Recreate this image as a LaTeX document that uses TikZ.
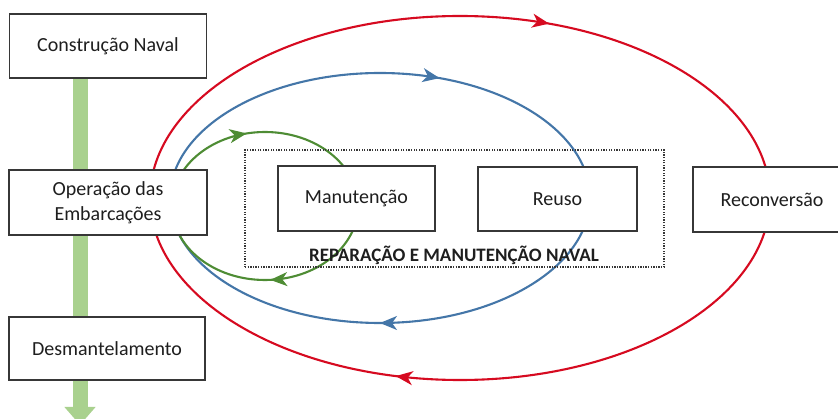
\documentclass[tikz,border=0pt]{standalone}
\usepackage{fontspec}
\setmainfont{Carlito}
\usetikzlibrary{arrows.meta,decorations.markings}
\definecolor{cred}{RGB}{214,10,32}
\definecolor{cblue}{RGB}{68,118,168}
\definecolor{cgreen}{RGB}{78,140,52}
\definecolor{shaft}{RGB}{169,209,142}
\definecolor{boxgray}{RGB}{55,55,55}
\definecolor{txt}{RGB}{30,30,30}
\begin{document}
\begin{tikzpicture}[x=1pt,y=-1pt,
  box/.style={draw=boxgray, line width=1.3pt, fill=white, inner sep=0pt,
    font=\fontsize{20}{25}\selectfont, text=txt, align=center},
  tipa/.tip={Stealth[length=17pt,width=14pt,inset=5pt]},
  loop/.style={line width=2.1pt, postaction={decorate}}]
\useasboundingbox (0,0) rectangle (838,419);
\clip (0,0) rectangle (838,419);
% green shaft
\coordinate (st) at (80,78);
\coordinate (se) at (80,425);
\draw[shaft, line width=15pt, -{Triangle[width=30pt,length=18pt]}] (st) -- (se);
% ellipses
\coordinate (rc) at (460,198);
\coordinate (bc) at (380,198);
\coordinate (gc) at (265,206);
\draw[cred, loop, decoration={markings,
   mark=at position 0.307 with {\arrow[cred]{tipa}},
   mark=at position 0.791 with {\arrow[cred]{tipa}}}]
  (rc) ++(-310,0) arc[start angle=180, end angle=540, x radius=310, y radius=182];
\draw[cblue, loop, decoration={markings,
   mark=at position 0.306 with {\arrow[cblue]{tipa}},
   mark=at position 0.75 with {\arrow[cblue]{tipa}}}]
  (bc) ++(-210,0) arc[start angle=180, end angle=540, x radius=210, y radius=125];
\draw[cgreen, loop, decoration={markings,
   mark=at position 0.215 with {\arrow[cgreen]{tipa}},
   mark=at position 0.74 with {\arrow[cgreen]{tipa}}}]
  (gc) ++(-93,0) arc[start angle=180, end angle=540, x radius=93, y radius=74];
% dotted frame
\node[draw=boxgray, line width=1.3pt, dash pattern=on 1.3pt off 1.3pt,
  minimum width=419pt, minimum height=117pt, inner sep=0pt] (frame) at (454.5,208.5) {};
\node[font=\fontsize{19}{22}\selectfont\bfseries, text=txt] (lbl) at (454,255) {REPARAÇÃO E MANUTENÇÃO NAVAL};
% boxes
\node[box, minimum width=197pt, minimum height=64pt] (cn) at (108,46) {Construção Naval};
\node[box, minimum width=198pt, minimum height=65pt] (op) at (108,202.5) {Operação das\\Embarcações};
\node[box, minimum width=196pt, minimum height=63pt] (de) at (107,348.5) {Desmantelamento};
\node[box, minimum width=157pt, minimum height=65pt] (ma) at (356.5,198.5) {Manutenção};
\node[box, minimum width=159pt, minimum height=64pt] (re) at (557.5,199) {Reuso};
\node[box, minimum width=158pt, minimum height=65pt] (rv) at (772,199.5) {Reconversão};
\end{tikzpicture}
\end{document}
